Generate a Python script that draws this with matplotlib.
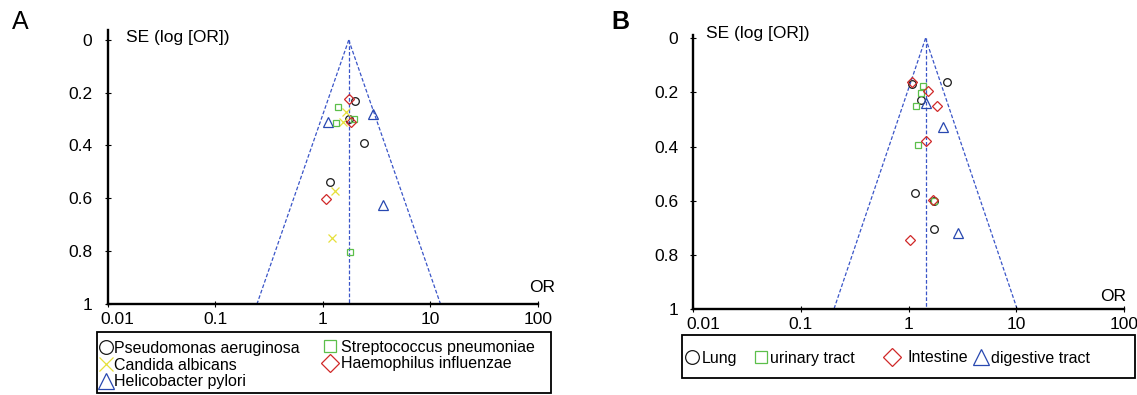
import numpy as np
import matplotlib.pyplot as plt
import matplotlib.transforms as mtransforms
from matplotlib.patches import Rectangle

plt.rcParams['font.family'] = ['Liberation Sans', 'DejaVu Sans']

# ---- panel A data (OR, SE of log OR) ----
pseudo_or = [1.97, 1.75, 2.39, 1.17]
pseudo_se = [0.233, 0.300, 0.389, 0.538]
strep_or = [1.39, 1.33, 1.95, 1.77]
strep_se = [0.255, 0.313, 0.300, 0.803]
candida_or = [1.63, 1.53, 1.29, 1.21]
candida_se = [0.274, 0.310, 0.573, 0.752]
haemo_or = [1.75, 1.81, 1.06]
haemo_se = [0.223, 0.312, 0.603]
helico_or = [1.11, 2.90, 3.66]
helico_se = [0.312, 0.280, 0.627]
pooled_a = 1.74

# ---- panel B data ----
lung_or = [1.08, 2.30, 1.30, 1.16, 1.71, 1.74]
lung_se = [0.169, 0.163, 0.228, 0.571, 0.600, 0.704]
urin_or = [1.35, 1.30, 1.17, 1.22, 1.71]
urin_se = [0.175, 0.204, 0.252, 0.395, 0.600]
intest_or = [1.08, 1.52, 1.83, 1.44, 1.68, 1.04]
intest_se = [0.161, 0.194, 0.250, 0.379, 0.596, 0.746]
digest_or = [1.44, 2.08, 2.90]
digest_se = [0.240, 0.329, 0.721]
pooled_b = 1.44

xticks = [0.01, 0.1, 1, 10, 100]
xticklabels = ['0.01', '0.1', '1', '10', '100']
yticks = [0, 0.2, 0.4, 0.6, 0.8, 1]
yticklabels = ['0', '0.2', '0.4', '0.6', '0.8', '1']

BLACK = '#1a1a1a'
GREEN = '#5cbf4a'
YELLOW = '#e6e03a'
RED = '#d02828'
BLUE = '#2848b0'
FUNNEL = '#3a55c8'

W, H = 1137, 395
LEG_FS = 11.5
HANDLE_LEN = 0.8


def setup_axis(ax, ytop):
    ax.set_xscale('log')
    ax.set_xlim(0.01, 100)
    ax.set_ylim(1, ytop)
    ax.set_xticks(xticks)
    ax.set_xticklabels(xticklabels)
    ax.minorticks_off()
    ax.set_yticks(yticks)
    ax.set_yticklabels(yticklabels)
    for s in ['top', 'right']:
        ax.spines[s].set_visible(False)
    for s in ['left', 'bottom']:
        ax.spines[s].set_linewidth(1.7)
        ax.spines[s].set_color('black')
    ax.tick_params(axis='both', direction='inout', length=4, width=0.8,
                   labelsize=12.5, colors='black')
    ax.tick_params(axis='y', pad=9)
    ax.tick_params(axis='x', pad=4)
    ax.patch.set_alpha(0)
    # first x label sits a bit to the right, clear of the y axis
    lab = ax.get_xticklabels()[0]
    lab.set_transform(lab.get_transform() +
                      mtransforms.ScaledTranslation(10 / 100, 0, fig.dpi_scale_trans))


def funnel(ax, center):
    se = np.array([0.0, 1.0])
    kw = dict(color=FUNNEL, lw=0.9, ls=(0, (3, 1.6)), zorder=1)
    ax.plot(center * np.exp(-1.96 * se), se, **kw)
    ax.plot(center * np.exp(1.96 * se), se, **kw)
    ax.plot([center, center], [0, 1], **kw)


def pts(ax, x, y, marker, color, ms, label):
    h, = ax.plot(x, y, ls='none', marker=marker, ms=ms, mfc='none',
                 mec=color, mew=0.9, label=label, zorder=3)
    return h


def box(x0, y0, x1, y1):
    # legend frame given in pixel coords (top-left origin)
    fig.patches.append(Rectangle((x0 / W, 1 - y1 / H), (x1 - x0) / W, (y1 - y0) / H,
                                 transform=fig.transFigure, fill=False,
                                 edgecolor='black', lw=1.3))


def legend_at(handles, xm, yc, pad=0.3):
    # xm: pixel x of the marker centre, yc: pixel y of the block centre
    half = HANDLE_LEN * LEG_FS * 100 / 72 / 2
    leg = fig.legend(handles=handles, loc='center left',
                     bbox_to_anchor=((xm - half) / W, 1 - yc / H),
                     fontsize=LEG_FS, markerscale=1.8, handlelength=HANDLE_LEN,
                     handletextpad=pad, labelspacing=0.12, borderpad=0,
                     frameon=False, borderaxespad=0)
    return leg


fig = plt.figure(figsize=(11.37, 3.95), dpi=100)

# ---- Panel A ----
axA = fig.add_axes([0.0947, 0.2316, 0.3785, 0.6924])
setup_axis(axA, -0.038)
funnel(axA, pooled_a)
h_pseudo = pts(axA, pseudo_or, pseudo_se, 'o', BLACK, 5.5, 'Pseudomonas aeruginosa')
h_cand = pts(axA, candida_or, candida_se, 'x', YELLOW, 5.5, 'Candida albicans')
h_heli = pts(axA, helico_or, helico_se, '^', BLUE, 6.5, 'Helicobacter pylori')
h_strep = pts(axA, strep_or, strep_se, 's', GREEN, 5.0, 'Streptococcus pneumoniae')
h_haemo = pts(axA, haemo_or, haemo_se, 'D', RED, 5.0, 'Haemophilus influenzae')
axA.text(0.043, 0.971, 'SE (log [OR])', transform=axA.transAxes,
         fontsize=12.5, va='center', ha='left')
axA.text(1.04, 0.057, 'OR', transform=axA.transAxes,
         fontsize=12.5, va='center', ha='right')
fig.text(0.0175, 0.945, 'A', fontsize=18, ha='center', va='center')

box(97, 332, 551, 393)
legend_at([h_pseudo, h_cand, h_heli], 106, 365, pad=0.1)
legend_at([h_strep, h_haemo], 330, 355.5, pad=0.3)

# ---- Panel B ----
axB = fig.add_axes([0.6098, 0.2177, 0.3785, 0.6937])
setup_axis(axB, -0.012)
funnel(axB, pooled_b)
h_lung = pts(axB, lung_or, lung_se, 'o', BLACK, 5.5, 'Lung')
h_urin = pts(axB, urin_or, urin_se, 's', GREEN, 5.0, 'urinary tract')
h_int = pts(axB, intest_or, intest_se, 'D', RED, 5.0, 'Intestine')
h_dig = pts(axB, digest_or, digest_se, '^', BLUE, 6.5, 'digestive tract')
axB.text(0.03, 1.007, 'SE (log [OR])', transform=axB.transAxes,
         fontsize=12.5, va='center', ha='left')
axB.text(1.006, 0.044, 'OR', transform=axB.transAxes,
         fontsize=12.5, va='center', ha='right')
fig.text(0.546, 0.945, 'B', fontsize=18, ha='center', va='center',
         fontweight='bold')

box(682, 335, 1135, 378)
legend_at([h_lung], 692, 358, pad=0.2)
legend_at([h_urin], 761, 358, pad=0.15)
legend_at([h_int], 892, 358, pad=0.55)
legend_at([h_dig], 981, 358, pad=0.25)

fig.savefig('out.png', dpi=100)
